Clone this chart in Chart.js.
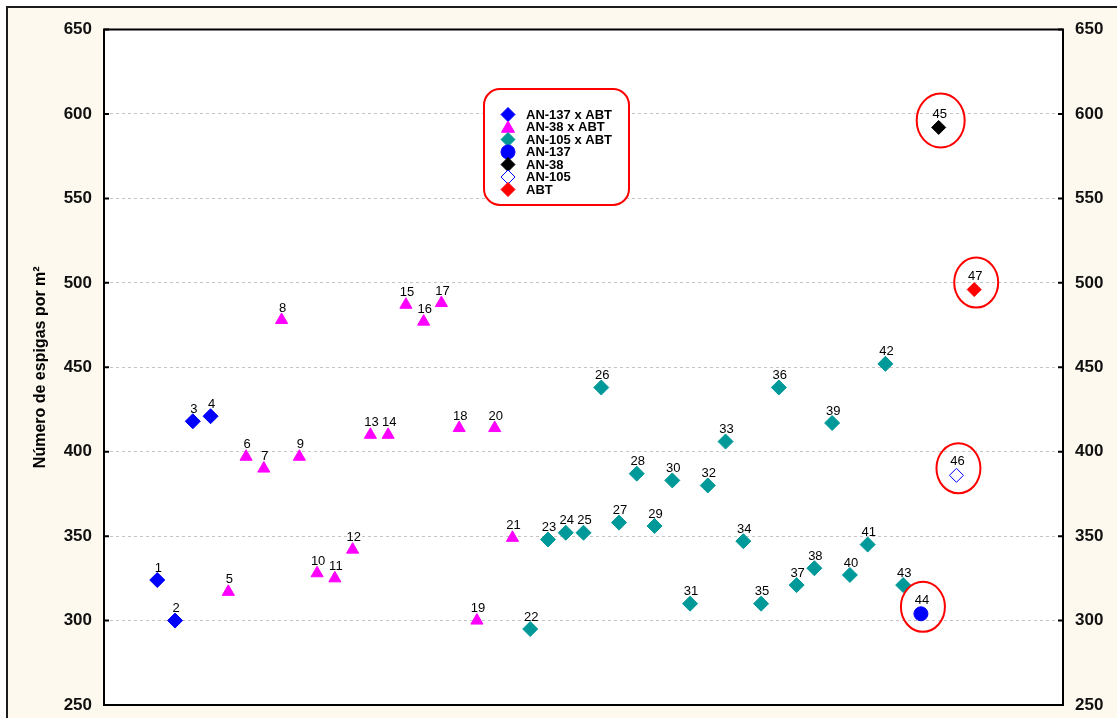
<!DOCTYPE html>
<html>
<head>
<meta charset="utf-8">
<title>Número de espigas por m²</title>
<script src="https://cdn.jsdelivr.net/npm/chart.js@4.4.1/dist/chart.umd.min.js"></script>
<style>
  html, body { margin: 0; padding: 0; background: #ffffff; overflow: hidden; }
  #wrap { position: relative; width: 1117px; height: 718px; }
  canvas { display: block; }
</style>
</head>
<body>
<div id="wrap"><canvas id="chart" width="1117" height="718"></canvas></div>
<script>
// Entry numbers (x) and spikes per m² (y) for each group
const entriesAN137xABT = [1, 2, 3, 4];
const valuesAN137xABT  = [324, 300, 418, 421];

const entriesAN38xABT = [5, 6, 7, 8, 9, 10, 11, 12, 13, 14, 15, 16, 17, 18, 19, 20, 21];
const valuesAN38xABT  = [317, 397, 390, 478, 397, 328, 325, 342, 410, 410, 487, 477, 488, 414, 300, 414, 349];

const entriesAN105xABT = [22, 23, 24, 25, 26, 27, 28, 29, 30, 31, 32, 33, 34, 35, 36, 37, 38, 39, 40, 41, 42, 43];
const valuesAN105xABT  = [295, 348, 352, 352, 438, 358, 387, 356, 383, 310, 380, 406, 347, 310, 438, 321, 331, 417, 327, 345, 452, 321];

const entriesAN137 = [44];
const valuesAN137  = [304];
const entriesAN38  = [45];
const valuesAN38   = [592];
const entriesAN105 = [46];
const valuesAN105  = [386];
const entriesABT   = [47];
const valuesABT    = [496];

const seriesLabels = ['AN-137 x ABT', 'AN-38 x ABT', 'AN-105 x ABT', 'AN-137', 'AN-38', 'AN-105', 'ABT'];
const yTickValues = [250, 300, 350, 400, 450, 500, 550, 600, 650];

const FONT = '"Liberation Sans", Arial, Helvetica, sans-serif';

function pairs(xs, ys) {
  return xs.map((x, i) => ({ x: x, y: ys[i] }));
}

function series(label, xs, ys, style, fill, stroke, radius) {
  return {
    label: label,
    data: pairs(xs, ys),
    showLine: false,
    pointStyle: style,
    pointRadius: radius,
    pointBackgroundColor: fill,
    pointBorderColor: stroke,
    pointBorderWidth: 1,
    pointHoverRadius: radius
  };
}

const datasets = [
  series(seriesLabels[0], entriesAN137xABT, valuesAN137xABT, 'rectRot', '#0000ff', '#0000ff', 7.5),
  series(seriesLabels[1], entriesAN38xABT, valuesAN38xABT, 'triangle', '#ff00ff', '#ff00ff', 7),
  series(seriesLabels[2], entriesAN105xABT, valuesAN105xABT, 'rectRot', '#009999', '#009999', 7.5),
  series(seriesLabels[3], entriesAN137, valuesAN137, 'circle', '#0000ff', '#0000ff', 7),
  series(seriesLabels[4], entriesAN38, valuesAN38, 'rectRot', '#000000', '#000000', 7),
  series(seriesLabels[5], entriesAN105, valuesAN105, 'rectRot', '#ffffff', '#0000ff', 7),
  series(seriesLabels[6], entriesABT, valuesABT, 'rectRot', '#ff0000', '#ff0000', 7)
];

// Page frame, cream background and white plotting area
const backdrop = {
  id: 'backdrop',
  beforeDraw(chart) {
    const ctx = chart.ctx, a = chart.chartArea;
    ctx.save();
    ctx.fillStyle = '#ffffff';
    ctx.fillRect(0, 0, chart.width, chart.height);
    ctx.fillStyle = '#fdf9ee';
    ctx.fillRect(7, 7, chart.width - 7, chart.height - 7);
    ctx.strokeStyle = '#1c1c1c';
    ctx.lineWidth = 2;
    ctx.beginPath();
    ctx.moveTo(7, chart.height);
    ctx.lineTo(7, 7);
    ctx.lineTo(chart.width, 7);
    ctx.stroke();
    ctx.fillStyle = '#ffffff';
    ctx.fillRect(a.left, a.top, a.right - a.left, a.bottom - a.top);
    ctx.restore();
  }
};

// Plot frame with short inward tick marks on both value axes
const plotFrame = {
  id: 'plotFrame',
  afterDatasetsDraw(chart) {
    const ctx = chart.ctx, a = chart.chartArea, y = chart.scales.y;
    ctx.save();
    ctx.strokeStyle = '#000000';
    ctx.lineWidth = 2;
    ctx.strokeRect(a.left, a.top, a.right - a.left, a.bottom - a.top);
    ctx.beginPath();
    yTickValues.forEach(v => {
      const py = y.getPixelForValue(v);
      ctx.moveTo(a.left, py); ctx.lineTo(a.left + 5, py);
      ctx.moveTo(a.right - 5, py); ctx.lineTo(a.right, py);
    });
    ctx.stroke();
    ctx.restore();
  }
};

// Entry number written above every marker
const entryNumbers = {
  id: 'entryNumbers',
  afterDatasetsDraw(chart) {
    const ctx = chart.ctx;
    ctx.save();
    ctx.font = '13px ' + FONT;
    ctx.fillStyle = '#000000';
    ctx.textAlign = 'center';
    ctx.textBaseline = 'middle';
    chart.data.datasets.forEach((ds, di) => {
      const meta = chart.getDatasetMeta(di);
      const lift = ds.pointStyle === 'circle' || di >= 4 ? 13.5 : 12;
      meta.data.forEach((el, i) => {
        ctx.fillText(String(ds.data[i].x), el.x + 1, el.y - lift);
      });
    });
    ctx.restore();
  }
};

// Red rings around the parent lines
const parentRings = {
  id: 'parentRings',
  afterDatasetsDraw(chart) {
    const ctx = chart.ctx;
    ctx.save();
    ctx.strokeStyle = '#ff0000';
    ctx.lineWidth = 2;
    [3, 4, 5, 6].forEach(di => {
      const el = chart.getDatasetMeta(di).data[0];
      const big = di === 4;
      ctx.beginPath();
      ctx.ellipse(el.x + 2, el.y - 7, big ? 24 : 22, big ? 27 : 25, 0, 0, Math.PI * 2);
      ctx.stroke();
    });
    ctx.restore();
  }
};

function marker(ctx, style, x, y, r, fill, stroke) {
  ctx.beginPath();
  if (style === 'circle') {
    ctx.arc(x, y, r, 0, Math.PI * 2);
  } else if (style === 'triangle') {
    ctx.moveTo(x, y - r);
    ctx.lineTo(x + r * Math.cos(Math.PI / 6), y + r * 0.5);
    ctx.lineTo(x - r * Math.cos(Math.PI / 6), y + r * 0.5);
    ctx.closePath();
  } else {
    ctx.moveTo(x, y - r); ctx.lineTo(x + r, y); ctx.lineTo(x, y + r); ctx.lineTo(x - r, y);
    ctx.closePath();
  }
  ctx.fillStyle = fill; ctx.fill();
  ctx.strokeStyle = stroke; ctx.lineWidth = 1; ctx.stroke();
}

// Key inside a rounded red box
const keyBox = {
  id: 'keyBox',
  afterDraw(chart) {
    const ctx = chart.ctx;
    const bx = 484, by = 89, bw = 145, bh = 116, br = 16;
    ctx.save();
    ctx.fillStyle = '#ffffff';
    ctx.strokeStyle = '#ff0000';
    ctx.lineWidth = 2;
    ctx.beginPath();
    ctx.roundRect(bx, by, bw, bh, br);
    ctx.fill();
    ctx.stroke();
    ctx.font = 'bold 13px ' + FONT;
    ctx.textAlign = 'left';
    ctx.textBaseline = 'middle';
    chart.data.datasets.forEach((ds, i) => {
      const ry = 114.5 + i * 12.5;
      const r = ds.pointStyle === 'triangle' ? 7.5 : 7;
      marker(ctx, ds.pointStyle, 508, ds.pointStyle === 'triangle' ? ry + 1.5 : ry, r,
             ds.pointBackgroundColor, ds.pointBorderColor);
      ctx.fillStyle = '#000000';
      ctx.fillText(ds.label, 526, ry + 0.5);
    });
    ctx.restore();
  }
};

const tickFont = { family: FONT, size: 17, weight: 'bold' };

// Fixed axis widths; the layout padding alone sets the plot's top and bottom
function fixAxis(width) {
  return function (scale) {
    scale.width = width;
    scale.paddingTop = 0;
    scale.paddingBottom = 0;
  };
}

new Chart(document.getElementById('chart'), {
  type: 'scatter',
  data: { datasets: datasets },
  plugins: [backdrop, plotFrame, parentRings, entryNumbers, keyBox],
  options: {
    responsive: false,
    animation: false,
    events: [],
    layout: { padding: { top: 29.5, bottom: 13, left: 0, right: 0 } },
    plugins: { legend: { display: false }, tooltip: { enabled: false } },
    scales: {
      x: {
        type: 'linear',
        min: -2,
        max: 52,
        display: false
      },
      y: {
        position: 'left',
        min: 250,
        max: 650,
        afterBuildTicks(scale) { scale.ticks = yTickValues.map(v => ({ value: v })); },
        afterFit: fixAxis(104),
        ticks: { font: tickFont, color: '#111111', padding: 12 },
        grid: { color: '#c4c4c4', lineWidth: 1, drawTicks: false },
        border: { display: false, dash: [3, 3] },
        title: {
          display: true,
          text: 'Número de espigas por m²',
          font: { family: FONT, size: 16, weight: 'bold' },
          color: '#000000',
          padding: { top: 31, bottom: 0 }
        }
      },
      y2: {
        position: 'right',
        min: 250,
        max: 650,
        afterBuildTicks(scale) { scale.ticks = yTickValues.map(v => ({ value: v })); },
        afterFit: fixAxis(54),
        ticks: { font: tickFont, color: '#111111', padding: 12 },
        grid: { display: false, drawTicks: false },
        border: { display: false }
      }
    }
  }
});
</script>
</body>
</html>
